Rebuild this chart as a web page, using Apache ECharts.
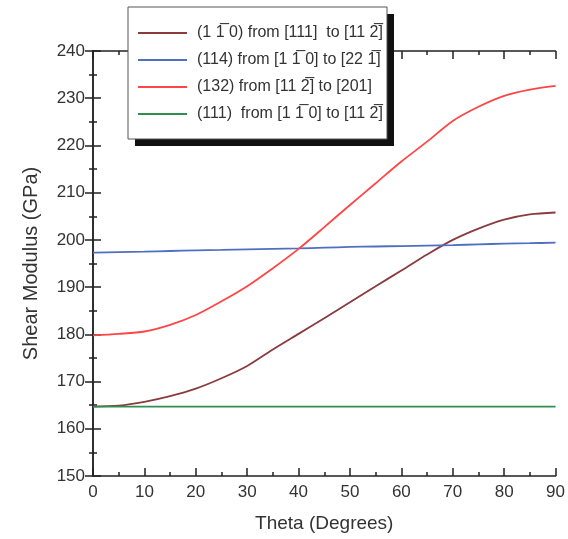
<!DOCTYPE html>
<html><head><meta charset="utf-8">
<script src="https://cdn.jsdelivr.net/npm/echarts@6/dist/echarts.min.js"></script>
<style>html,body{margin:0;padding:0;background:#fff}#c{width:568px;height:539px}</style>
</head><body><div id="c"></div>
<script>
const OB = '\u0305';
const seriesNames = [
  '(1 1' + OB + ' 0) from [111]  to [11 2' + OB + ']',
  '(114) from [1 1' + OB + ' 0] to [22 1' + OB + ']',
  '(132) from [11 2' + OB + '] to [201]',
  '(111)  from [1 1' + OB + ' 0] to [11 2' + OB + ']'
];
const theta = [0,5,10,15,20,25,30,35,40,45,50,55,60,65,70,75,80,85,90];
const s110 = [164.7,164.9,165.7,166.9,168.5,170.7,173.3,176.8,180.1,183.4,186.8,190.2,193.5,196.9,200.0,202.4,204.3,205.4,205.8];
const s114 = [197.3,197.4,197.5,197.65,197.8,197.9,198.0,198.1,198.2,198.35,198.5,198.6,198.7,198.8,198.9,199.05,199.2,199.3,199.4];
const s132 = [179.8,180.1,180.6,182.0,184.1,187.0,190.2,194.0,198.1,202.7,207.4,212.0,216.6,220.8,225.2,228.2,230.5,231.8,232.6];
const s111 = [164.7,164.7,164.7,164.7,164.7,164.7,164.7,164.7,164.7,164.7,164.7,164.7,164.7,164.7,164.7,164.7,164.7,164.7,164.7];
const colors = ['#8a3b3e','#4f6fc0','#ff4545','#2e8f4f'];
const allVals = [s110, s114, s132, s111];

const chart = echarts.init(document.getElementById('c'));
const ff = '"Liberation Sans", Arial, sans-serif';
function ax(extra, len, interval, showLine){
  return Object.assign({
    type:'value', interval:interval,
    axisLine:{show:showLine,lineStyle:{color:'#222',width:1.5}},
    axisTick:{show:true,inside:true,length:len,lineStyle:{color:'#222',width:1.5}},
    splitLine:{show:false},
    axisLabel:{show:false}
  }, extra);
}
const lab = {show:true,fontSize:17,color:'#333',fontFamily:ff,margin:8};
chart.setOption({
  animation:false,
  backgroundColor:'#fff',
  grid:{left:93,right:12,top:51,bottom:63},
  xAxis:[
    ax({min:0,max:90,position:'bottom',
      name:'Theta (Degrees)',nameLocation:'middle',nameGap:38,
      nameTextStyle:{fontSize:19,color:'#333',fontFamily:ff},
      axisLabel:lab}, 8, 10, true),
    ax({min:0,max:90,position:'top'}, 8, 10, true),
    ax({min:0,max:90,position:'bottom'}, 4, 5, false),
    ax({min:0,max:90,position:'top'}, 4, 5, false)
  ],
  yAxis:[
    ax({min:150,max:240,position:'left',
      name:'Shear Modulus (GPa)',nameLocation:'middle',nameGap:52,
      nameTextStyle:{fontSize:20,color:'#333',fontFamily:ff},
      axisLabel:lab}, 8, 10, true),
    ax({min:150,max:240,position:'right'}, 8, 10, true),
    ax({min:150,max:240,position:'left'}, 4, 5, false),
    ax({min:150,max:240,position:'right'}, 4, 5, false)
  ],
  graphic:[
    {type:'rect',z:10,shape:{x:135,y:14,width:259,height:132},style:{fill:'#111'}},
    {type:'rect',z:11,shape:{x:128,y:7,width:259,height:132},style:{fill:'#fff',stroke:'#555',lineWidth:1}}
  ],
  legend:{
    orient:'vertical',left:128,top:7,z:12,
    padding:[18,10,13,10],
    itemWidth:49,itemHeight:2,itemGap:11,
    icon:'rect',
    textStyle:{fontSize:16,color:'#333',fontFamily:ff,padding:[0,0,0,5]},
    data:seriesNames.map((n,i)=>({name:n,itemStyle:{color:colors[i]}}))
  },
  series: seriesNames.map((n,i)=>({
    name:n,type:'line',showSymbol:false,smooth:0.3,
    xAxisIndex:0,yAxisIndex:0,
    lineStyle:{color:colors[i],width:1.8},itemStyle:{color:colors[i]},
    data: theta.map((t,j)=>[t, allVals[i][j]]),
    z: 2
  }))
});
</script></body></html>
